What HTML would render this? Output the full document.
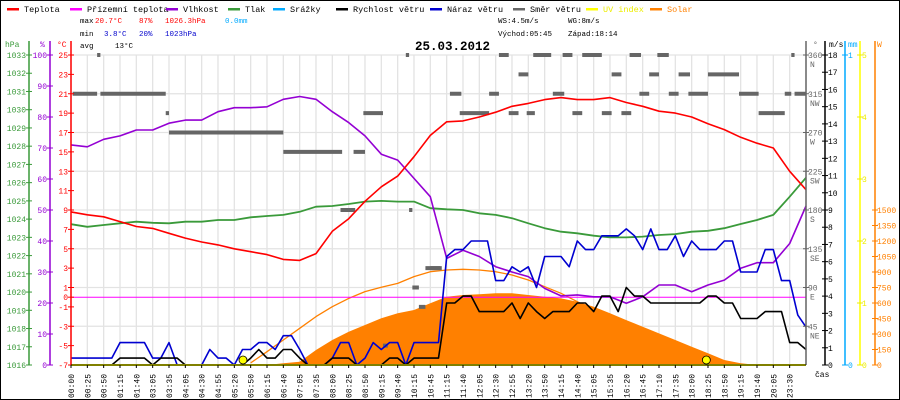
<!DOCTYPE html>
<html><head><meta charset="utf-8"><style>
html,body{margin:0;padding:0;background:#fff}
svg{display:block;font-family:"Liberation Mono",monospace}
</style></head><body>
<svg id="c" width="900" height="400" viewBox="0 0 900 400" xmlns="http://www.w3.org/2000/svg">
<rect x="0.5" y="0.5" width="899" height="399" fill="#fff" stroke="#000"/>
<g id="grid"></g>
<g id="series"></g>
<g id="axes"></g>
<g id="legend" font-size="8.5"></g>
<g font-size="7.5">
<text x="80" y="23" fill="#000">max</text>
<text x="95" y="23" fill="#f00">20.7°C</text>
<text x="139" y="23" fill="#f00">87%</text>
<text x="165" y="23" fill="#f00">1026.3hPa</text>
<text x="225" y="23" fill="#0af">0.0mm</text>
<text x="80" y="36" fill="#000">min</text>
<text x="104" y="36" fill="#00c">3.8°C</text>
<text x="139" y="36" fill="#00c">20%</text>
<text x="165" y="36" fill="#00c">1023hPa</text>
<text x="80" y="48" fill="#000">avg</text>
<text x="115" y="48" fill="#000">13°C</text>
<text x="498" y="23" fill="#000">WS:4.5m/s</text>
<text x="568" y="23" fill="#000">WG:8m/s</text>
<text x="498" y="36" fill="#000">Východ:05:45</text>
<text x="568" y="36" fill="#000">Západ:18:14</text>
</g>
<text x="415" y="50" font-size="12.5" font-weight="bold" fill="#000">25.03.2012</text>
</svg>
<script>
const timeLabels=["00:00","00:25","00:50","01:15","01:40","03:05","03:35","04:05","04:30","04:55","05:20","05:50","06:15","06:40","07:05","07:35","08:00","08:25","08:50","09:15","09:40","10:15","10:45","11:15","11:40","12:05","12:30","12:55","13:20","13:50","14:15","14:40","15:05","15:35","16:20","16:45","17:10","17:35","18:00","18:25","18:50","19:15","19:40","20:05","23:30"];
const temperature=[8.8,8.5,8.3,7.8,7.3,7.1,6.6,6.1,5.7,5.4,5.0,4.7,4.4,3.9,3.8,4.5,6.8,8.1,9.9,11.4,12.5,14.5,16.7,18.1,18.2,18.6,19.1,19.7,20.0,20.4,20.6,20.4,20.4,20.6,20.1,19.7,19.2,19.0,18.6,17.9,17.3,16.5,15.9,15.4,13.0,11.1];
const humidity=[71,70.4,72.8,73.9,75.8,75.8,78,79,79,81.7,83,83,83.3,85.7,86.6,85.7,81.7,78.2,73.9,68,66.1,60.2,54.3,34.4,37,35,31.7,30,28.5,24.7,22.3,22.6,22,22,19.9,22,25.8,25.8,23.6,25.8,27.4,31.2,33,33,39.2,51.3];
const pressure=[1023.72,1023.58,1023.68,1023.77,1023.86,1023.8,1023.77,1023.86,1023.86,1023.95,1023.95,1024.1,1024.17,1024.23,1024.4,1024.68,1024.72,1024.83,1024.96,1025.0,1024.96,1024.96,1024.6,1024.54,1024.5,1024.32,1024.23,1024.05,1023.77,1023.5,1023.31,1023.22,1023.09,1023.0,1023.0,1023.04,1023.13,1023.18,1023.31,1023.36,1023.5,1023.73,1023.95,1024.23,1025.23,1026.27];
const solar=[0,0,0,0,0,0,0,0,0,0,0,0,0,16,32,145,242,322,387,452,500,532,597,661,677,684,694,694,677,661,645,613,564,500,435,371,306,242,177,113,48,16,0,0,0,0];
const solarMax=[null,null,null,null,null,null,null,null,null,null,null,20,129,242,355,468,564,645,710,752,790,855,903,919,926,919,903,871,823,758,694,613,532,484,null,null,null,null,null,null,null,null,null,null,null,null];
const windSpeed=[0,0,0,0,0,0,0.4,0.4,0.4,0.4,0,0.4,0.4,0.4,0,0,0,0,0,0,0,0,0.4,0.9,0.4,0.4,0.9,0.9,0.4,0,0,0,0.4,0.4,0.4,0,0,0,0,0.4,0.4,0,0.4,0.4,0.4,0.4,3.6,3.6,4.0,4.0,3.1,3.1,3.1,3.1,3.6,2.7,3.6,3.1,2.7,3.1,3.1,3.1,3.6,3.6,3.1,4.0,4.0,3.1,4.5,4.0,4.0,3.6,3.6,3.6,3.6,3.6,3.6,3.6,4.0,4.0,3.6,3.6,2.7,2.7,2.7,3.1,3.1,3.1,1.3,1.3,0.9];
const windGust=[0.4,0.4,0.4,0.4,0.4,0.4,1.3,1.3,1.3,1.3,0.4,0.4,1.3,0,0,0,0,0.9,0.4,0.4,0,0.9,0.9,1.3,1.3,0.9,1.7,1.7,0.9,0,0,0,0.4,1.3,1.3,0,0.4,1.3,0.9,1.3,1.3,0,1.3,1.3,1.3,1.3,6.3,6.7,6.7,7.2,7.2,7.2,4.9,4.9,5.7,5.4,5.7,4.5,6.3,6.3,6.3,5.7,7.2,6.7,6.7,7.5,7.5,7.5,7.9,7.5,6.7,7.9,6.7,6.7,7.5,6.3,7.2,6.7,6.7,6.7,7.2,7.2,5.4,5.4,5.4,6.7,6.7,4.9,4.9,2.9,2.2];
const dirStart=[1.6,20.5,0.1,1.8,5.8,17.9,6.0,13.0,17.3,16.5,20.7,21.7,20.9,21.3,19.1,26.2,28.3,30.1,31.3,34.2,35.9,44.1,27.4,33.1,35.4,37.2,39.0,23.2,25.6,29.5,34.8,36.6,37.8,40.9,43.7,44.3,23.8,26.8,27.9,30.7,32.5,33.7,42.1,22.0];
const dirEnd=[1.8,20.7,1.6,5.8,6.0,19.1,13.0,16.6,18.0,17.4,20.9,22.6,21.3,21.7,19.4,26.8,29.4,30.7,32.5,34.9,36.6,44.3,28.0,33.7,36.0,37.9,40.9,23.9,26.2,30.2,35.4,37.2,39.0,42.1,44.1,45.0,25.6,27.4,28.4,31.3,33.1,34.3,43.7,22.7];
const dirDeg=[360,360,315,315,292.5,292.5,270,247.5,247.5,180,180,112.5,90,67.5,22.5,360,360,360,360,360,360,360,337.5,337.5,337.5,337.5,337.5,315,315,315,315,315,315,315,315,315,292.5,292.5,292.5,292.5,292.5,292.5,292.5,112.5];
const sunEvents=[10.53,38.9];
const hpaTicks=[1016,1017,1018,1019,1020,1021,1022,1023,1024,1025,1026,1027,1028,1029,1030,1031,1032,1033];
const humTicks=[0,10,20,30,40,50,60,70,80,90,100];
const tempTicks=[25,23,21,19,17,15,13,11,9,7,5,3,1,0,-1,-3,-5,-7];
const degTicks=[360,315,270,225,180,135,90,45];
const degNames=["N","NW","W","SW","S","SE","E","NE"];
const msTicks=[0,1,2,3,4,5,6,7,8,9,10,11,12,13,14,15,16,17,18];
const uvTicks=[0,1,2,3,4,5];
const wTicks=[0,150,300,450,600,750,900,1050,1200,1350,1500];

const NS="http://www.w3.org/2000/svg";
const X0=71,DX=16.333,YB=365,YT=55,H=YB-YT;
const sx=s=>X0+s*DX;
const yT=t=>YB-(t+7)*H/32, yH=h=>YB-h*H/100, yP=p=>YB-(p-1016)*H/17;
const yV=v=>YB-v*H/18, yD=d=>YB-d*H/360, yW=w=>YB-w*H/3000, yUV=u=>YB-u*H/5;
function el(tag,attrs,parent){const e=document.createElementNS(NS,tag);for(const k in attrs)e.setAttribute(k,attrs[k]);parent.appendChild(e);return e;}
const grid=document.getElementById('grid'),ser=document.getElementById('series'),ax=document.getElementById('axes'),leg=document.getElementById('legend');

// grid
for(let i=0;i<=45;i++){const g=el('line',{x1:sx(i),x2:sx(i),y1:YT,y2:YB,stroke:'#e3e3e3','stroke-width':1.3},grid);

}
for(let k=0;k<8;k++){const g=el('line',{x1:X0,x2:806,y1:yD(360-45*k),y2:yD(360-45*k),stroke:'#e3e3e3','stroke-width':1.3},grid);

}

function line(vals,step,yf,color,name,w){let d='';let pen=false;vals.forEach((v,i)=>{if(v===null){pen=false;return;}d+=(pen?'L':'M')+sx(i*step).toFixed(1)+' '+yf(v).toFixed(1);pen=true;});
const p=el('path',{d:d,fill:'none',stroke:color,'stroke-width':w||1.6,'stroke-linejoin':'round'},ser);

return p;}

// solar fill
let sd='M'+sx(0)+' '+YB;solar.forEach((v,i)=>{sd+='L'+sx(i).toFixed(1)+' '+yW(v).toFixed(1);});sd+='L'+sx(solar.length-1)+' '+YB+'Z';
const sf=el('path',{d:sd,fill:'#ff8000',stroke:'none'},ser);


line(solarMax,1,yW,'#ff8000','solar-max-line',1.3);
// wind direction
dirDeg.forEach((d,i)=>{const r=el('rect',{x:sx(dirStart[i]),y:yD(d)-2,width:Math.max(2,(dirEnd[i]-dirStart[i])*DX),height:4,fill:'#666'},ser);

});
// zero apparent line
const z=el('line',{x1:X0,x2:806,y1:yT(0),y2:yT(0),stroke:'#f0f','stroke-width':1},ser);


line(pressure,1,yP,'#3a9a3a','pressure-line',1.8);
line(humidity,1,yH,'#9400d3','humidity-line',1.6);
line(temperature,1,yT,'#f00','temperature-line',1.6);
line(windGust,0.5,yV,'#0000d0','wind-gust-line',1.6);
line(windSpeed,0.5,yV,'#000','wind-speed-line',1.6);
const uv=el('line',{x1:X0,x2:806,y1:YB,y2:YB,stroke:'#ff0','stroke-width':2},ser);


sunEvents.forEach(s=>{const c=el('circle',{cx:sx(s),cy:YB-5,r:4,fill:'#ff0',stroke:'#000','stroke-width':0.8},ser);

});

// axes
function vaxis(x,color,name){const a=el('line',{x1:x,x2:x,y1:YT-14,y2:YB,stroke:color,'stroke-width':1.5},ax);

}
function tick(x,y,color,label,anchor,tx,fs){el('line',{x1:x-3,x2:x+3,y1:y,y2:y,stroke:color},ax);
const t=el('text',{x:tx,y:y+3,fill:color,'font-size':fs||8,'text-anchor':anchor},ax);t.textContent=label;

}
vaxis(29,'#3a9a3a','pressure-axis');vaxis(50,'#9400d3','humidity-axis');vaxis(71,'#f00','temperature-axis');
hpaTicks.forEach(p=>tick(29,yP(p),'#3a9a3a',String(p),'end',26));
humTicks.forEach(h=>tick(50,yH(h),'#9400d3',String(h),'end',47));
tempTicks.forEach(t=>tick(71,yT(t),'#f00',String(t),'end',68));
vaxis(806,'#666','direction-axis');vaxis(825,'#000','wind-speed-axis');vaxis(845,'#0af','rain-axis');vaxis(860,'#ff0','uv-axis');vaxis(875,'#ff8000','solar-axis');
degTicks.forEach((d,i)=>{tick(806,yD(d),'#666',String(d),'start',808);const t=el('text',{x:810,y:yD(d)+12,fill:'#666','font-size':8},ax);t.textContent=degNames[i];

});
msTicks.forEach(v=>tick(825,yV(v),'#000',String(v),'start',828));
[0,1].forEach(v=>tick(845,YB-v*H,'#0af',String(v),'start',848));
uvTicks.forEach(u=>tick(860,yUV(u),'#ee0',String(u),'start',862));
wTicks.forEach(w=>tick(875,yW(w),'#ff8000',String(w),'start',877));
[['hPa',5,'#3a9a3a'],['%',40,'#9400d3'],['°C',57,'#f00'],['°',813,'#666'],['m/s',829,'#000'],['mm',848,'#0af'],['W',877,'#ff8000']].forEach(u=>{const t=el('text',{x:u[1],y:47,fill:u[2],'font-size':8},ax);t.textContent=u[0];

});
const cas=el('text',{x:815,y:377,fill:'#000','font-size':8},ax);cas.textContent='čas';


el('line',{x1:X0,x2:806,y1:YB,y2:YB,stroke:'#000','stroke-width':1},ax);
timeLabels.forEach((l,i)=>{el('line',{x1:sx(i),x2:sx(i),y1:YB,y2:YB+3,stroke:'#000'},ax);
const t=el('text',{transform:`translate(${sx(i)+3},398) rotate(-90)`,fill:'#000','font-size':8},ax);t.textContent=l;

});

// legend
[['Teplota','#f00',7],['Přízemní teplota','#f0f',70],['Vlhkost','#9400d3',166],['Tlak','#3a9a3a',228],['Srážky','#0af',273],['Rychlost větru','#000',336],['Náraz větru','#0000d0',430],['Směr větru','#666',513],['UV index','#ff0',586],['Solar','#ff8000',650]].forEach(l=>{
const g=el('g',{},leg);


el('rect',{x:l[2],y:8,width:12,height:2.5,fill:l[1]},g);
const t=el('text',{x:l[2]+17,y:12,fill:(l[0]==='UV index'?'#ee0':(l[0]==='Solar'?'#ff8000':'#000'))},g);t.textContent=l[0];});
</script>
</body></html>
